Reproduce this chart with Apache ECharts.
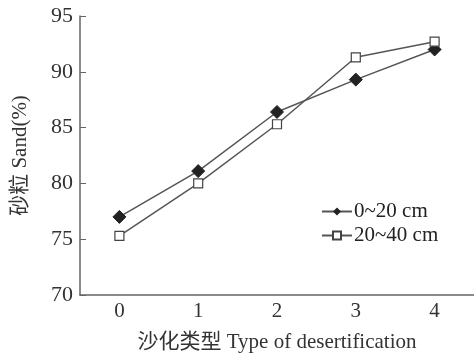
<!DOCTYPE html>
<html><head><meta charset="utf-8">
<script src="https://cdn.jsdelivr.net/npm/echarts@6/dist/echarts.min.js"></script>
<style>html,body{margin:0;padding:0;background:#fff}#c{width:474px;height:356px}</style>
</head><body><div id="c"></div>
<script>
const categories = ['0', '1', '2', '3', '4'];
const depth0_20 = [77.0, 81.1, 86.4, 89.3, 92.0];
const depth20_40 = [75.3, 80.0, 85.3, 91.3, 92.7];
const seriesNames = ['0~20 cm', '20~40 cm'];

const FONT = "'Liberation Serif','Noto Sans CJK SC',serif";
const chart = echarts.init(document.getElementById('c'));
chart.setOption({
  animation: false,
  backgroundColor: '#fff',
  textStyle: { fontFamily: FONT },
  grid: { left: 80, right: 0, top: 16, bottom: 61, containLabel: false, outerBoundsMode: 'none' },
  legend: {
    left: 316, top: 196, orient: 'vertical', itemGap: 3,
    itemWidth: 30, itemHeight: 10,
    textStyle: { fontFamily: FONT, fontSize: 21, color: '#222', padding: [0, 0, 0, -3] },
    data: seriesNames
  },
  xAxis: {
    type: 'category', data: categories, boundaryGap: true,
    name: '沙化类型 Type of desertification', nameLocation: 'middle', nameGap: 37,
    nameTextStyle: { fontFamily: FONT, fontSize: 21, color: '#333' },
    axisLine: { lineStyle: { color: '#666', width: 1.5 } },
    axisTick: { inside: true, length: 5, lineStyle: { color: '#666' } },
    axisLabel: { fontFamily: FONT, fontSize: 21, color: '#333', margin: 6 }
  },
  yAxis: {
    type: 'value', min: 70, max: 95, interval: 5,
    name: '砂粒 Sand(%)', nameLocation: 'middle', nameGap: 49,
    nameTextStyle: { fontFamily: FONT, fontSize: 21, color: '#333' },
    splitLine: { show: false },
    axisLine: { show: true, lineStyle: { color: '#666', width: 1.5 } },
    axisTick: { show: true, inside: true, length: 6, lineStyle: { color: '#666' } },
    axisLabel: { fontFamily: FONT, fontSize: 22, color: '#333', margin: 7 }
  },
  series: [
    {
      name: seriesNames[0], type: 'line', data: depth0_20,
      symbol: 'diamond', symbolSize: 13,
      lineStyle: { color: '#555', width: 1.5 },
      itemStyle: { color: '#222', borderColor: '#222' }
    },
    {
      name: seriesNames[1], type: 'line', data: depth20_40,
      symbol: 'rect', symbolSize: 9,
      lineStyle: { color: '#555', width: 1.5 },
      itemStyle: { color: '#fff', borderColor: '#444', borderWidth: 1.2 }
    }
  ]
});
</script></body></html>
